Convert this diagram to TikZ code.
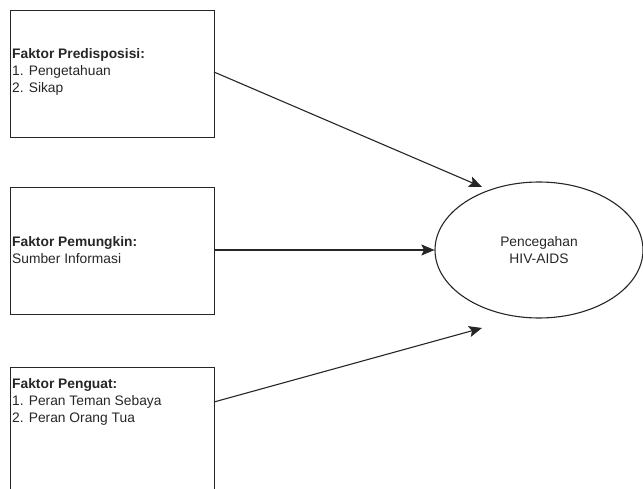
\documentclass[tikz,border=0pt]{standalone}
\usepackage{fontspec}
\setmainfont{Liberation Sans}
\usetikzlibrary{arrows.meta,shapes.geometric}
\begin{document}
\begin{tikzpicture}[x=1pt,y=-1pt,
  box/.style={draw=black!85, line width=1.1pt, minimum width=204pt, inner sep=0pt, anchor=north west},
  txt/.style={anchor=west, align=left, font=\fontsize{13.8}{16.8}\selectfont, text=black!85, inner sep=0pt},
  arr/.style={draw=black!85, line width=1.1pt, -{Stealth[length=13pt,width=11pt,inset=2.5pt]}}]
\useasboundingbox (0,0) rectangle (643,489);
\clip (0,0) rectangle (643,489);
\node[box, minimum height=127pt] (b1) at (10,10) {};
\node[box, minimum height=127pt] (b2) at (10,187) {};
\node[box, minimum height=130pt] (b3) at (10,367) {};
\node[txt] (t1) at (12,72) {\textbf{Faktor Predisposisi:}\\1. Pengetahuan\\2. Sikap};
\node[txt] (t2) at (12,250) {\textbf{Faktor Pemungkin:}\\Sumber Informasi};
\node[txt] (t3) at (12,402) {\textbf{Faktor Penguat:}\\1. Peran Teman Sebaya\\2. Peran Orang Tua};
\node[draw=black!85, line width=1.1pt, ellipse, minimum width=208pt, minimum height=136pt, inner sep=0pt,
  align=center, font=\fontsize{13.8}{16.8}\selectfont, text=black!85] (e) at (539,250) {Pencegahan\\HIV-AIDS};
\coordinate (s1) at (214,72);
\coordinate (s2) at (214,250);
\coordinate (s3) at (214,402);
\coordinate (h1) at (482,187);
\coordinate (h3) at (482,328);
\draw[arr] (s1) -- (h1);
\draw[arr] (s2) -- (e.west);
\draw[arr] (s3) -- (h3);
\end{tikzpicture}
\end{document}
